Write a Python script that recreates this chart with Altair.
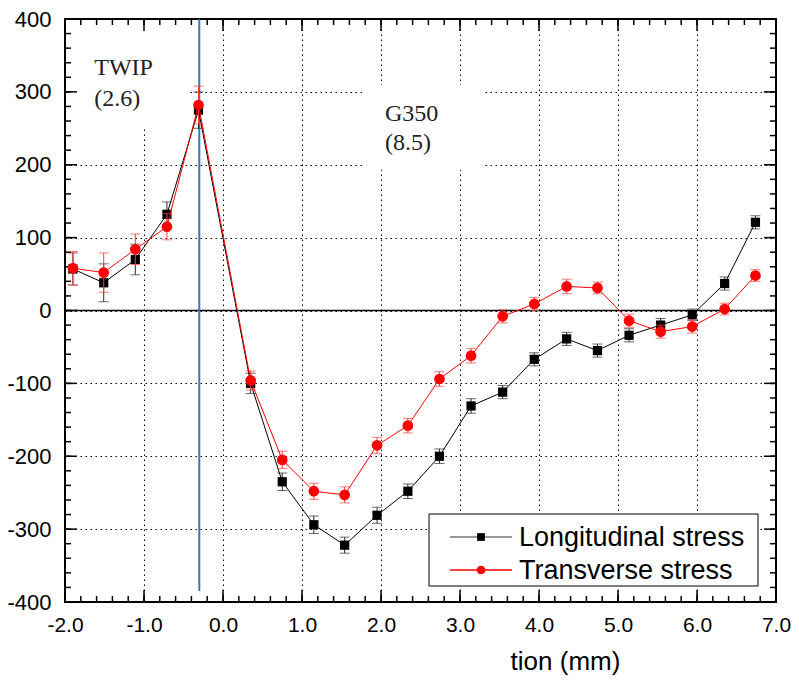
import altair as alt
import pandas as pd
import numpy as np

# ---------------- data ----------------
position = [-1.90, -1.51, -1.11, -0.71, -0.31, 0.35, 0.75, 1.15, 1.54, 1.95, 2.34,
            2.74, 3.14, 3.54, 3.94, 4.35, 4.74, 5.14, 5.54, 5.94, 6.35, 6.74]
long_stress = [57, 38, 70, 132, 275, -100, -235, -294, -322, -281, -248,
               -200, -131, -112, -67, -39, -55, -34, -20, -6, 37, 121]
long_err = [22, 26, 21, 17, 25, 14, 12, 12, 11, 11, 10,
            10, 10, 9, 9, 9, 9, 9, 9, 8, 9, 9]
trans_stress = [58, 52, 84, 115, 282, -96, -205, -248, -253, -185, -158,
                -94, -62, -8, 9, 33, 31, -14, -29, -22, 2, 48]
trans_err = [23, 27, 21, 18, 26, 13, 12, 11, 11, 11, 10,
             10, 10, 9, 9, 10, 8, 9, 9, 9, 8, 8]

series_names = ["Longitudinal stress", "Transverse stress"]

# interface line (blue) and zero line
interface_x = [-0.3]
interface_top = [400]
interface_bottom = [-385]
zero_line = [0]

# annotations
ann_text = ["TWIP", "(2.6)", "G350", "(8.5)"]
ann_x = [-1.63, -1.63, 2.05, 2.05]
ann_y = [323, 281, 260, 220]
box_x1 = [-1.975, 1.785]
box_x2 = [-0.42, 3.28]
box_y1 = [252, 193]
box_y2 = [397, 309.5]

# axis ticks
x_major = [-2.0, -1.0, 0.0, 1.0, 2.0, 3.0, 4.0, 5.0, 6.0, 7.0]
y_major = [-400, -300, -200, -100, 0, 100, 200, 300, 400]
x_minor = [round(v, 1) for v in np.arange(-2.0, 7.01, 0.2)]
y_minor = list(range(-400, 401, 20))

W, H = 711, 583
SANS = "Liberation Sans"
SERIF = "Liberation Serif"

xsc = alt.Scale(domain=[-2, 7], nice=False, zero=False)
ysc = alt.Scale(domain=[-400, 400], nice=False, zero=False)
minus_fix = "replace(datum.label, '\u2212', '-')"

x_axis = alt.Axis(values=x_major, format=".1f", labelExpr=minus_fix,
                  labelFont=SANS, labelFontSize=21, labelColor="black",
                  labelPadding=12, labelFlush=False, labelOverlap=False,
                  ticks=False, tickSize=0, domain=False,
                  grid=True, gridColor="black", gridDash=[1.5, 3.5],
                  gridWidth=1, gridOpacity=1,
                  titleFont=SANS, titleFontSize=26,
                  titleFontWeight="normal", titleColor="black",
                  titleX=500, titleY=67, titleBaseline="alphabetic",
                  titleAlign="center")
y_axis = alt.Axis(values=y_major, format="d", labelExpr=minus_fix,
                  labelFont=SANS, labelFontSize=22, labelColor="black",
                  labelPadding=14, labelFlush=False, labelOverlap=False,
                  ticks=False, tickSize=0, domain=False,
                  grid=True, gridColor="black", gridDash=[1.5, 3.5],
                  gridWidth=1, gridOpacity=1)

X_TITLE = "tion (mm)"

long_df = pd.DataFrame({"x": position, "y": long_stress,
                        "lo": [a - b for a, b in zip(long_stress, long_err)],
                        "hi": [a + b for a, b in zip(long_stress, long_err)]})
trans_df = pd.DataFrame({"x": position, "y": trans_stress,
                         "lo": [a - b for a, b in zip(trans_stress, trans_err)],
                         "hi": [a + b for a, b in zip(trans_stress, trans_err)]})


def X(field="x"):
    return alt.X(f"{field}:Q", scale=xsc, axis=x_axis, title=X_TITLE)


def Y(field="y"):
    return alt.Y(f"{field}:Q", scale=ysc, axis=y_axis, title=None)


boxes = alt.Chart(pd.DataFrame({"x1": box_x1, "x2": box_x2, "y1": box_y1, "y2": box_y2})).mark_rect(
    fill="white").encode(x=X("x1"), x2="x2:Q", y=Y("y1"), y2="y2:Q")


def side_ticks(vals, length, side):
    df = pd.DataFrame({"v": vals})
    base = alt.Chart(df).mark_rule(color="black", strokeWidth=1.5)
    if side == "left":
        return base.encode(y=Y("v"), x=alt.value(0), x2=alt.value(length))
    if side == "right":
        return base.encode(y=Y("v"), x=alt.value(W), x2=alt.value(W - length))
    if side == "bottom":
        return base.encode(x=X("v"), y=alt.value(H), y2=alt.value(H - length))
    return base.encode(x=X("v"), y=alt.value(0), y2=alt.value(length))


tick_list = []
for side in ["left", "right"]:
    tick_list.append(side_ticks(y_minor, 6, side))
    tick_list.append(side_ticks(y_major, 12, side))
for side in ["bottom", "top"]:
    tick_list.append(side_ticks(x_minor, 6, side))
    tick_list.append(side_ticks(x_major, 12, side))

zero = alt.Chart(pd.DataFrame({"y": zero_line})).mark_rule(color="black", strokeWidth=1.6).encode(y=Y())

interface = alt.Chart(pd.DataFrame({"x": interface_x, "y1": interface_top, "y2": interface_bottom})).mark_rule(
    color="#3f73b8", strokeWidth=2).encode(x=X(), y=Y("y1"), y2="y2:Q")


def series_layers(df, color, err_color, shape, size):
    caps = pd.DataFrame({"x": list(df["x"]) * 2, "y": list(df["lo"]) + list(df["hi"])})
    bars = alt.Chart(df).mark_rule(color=err_color, strokeWidth=1).encode(x=X(), y=Y("lo"), y2="hi:Q")
    cap = alt.Chart(caps).mark_tick(color=err_color, orient="horizontal", size=10, thickness=1).encode(
        x=X(), y=Y())
    line = alt.Chart(df).mark_line(color=color, strokeWidth=1).encode(x=X(), y=Y())
    pts = alt.Chart(df).mark_point(shape=shape, filled=True, fill=color, color=color, size=size,
                                   opacity=1, strokeWidth=0).encode(x=X(), y=Y())
    return [bars, cap, line, pts]


long_layers = series_layers(long_df, "black", "#2a2a2a", "square", 85)
trans_layers = series_layers(trans_df, "#ff0000", "#ff3a3a", "circle", 115)

ann = alt.Chart(pd.DataFrame({"x": ann_x, "y": ann_y, "t": ann_text})).mark_text(
    font=SERIF, fontSize=24, align="left", baseline="alphabetic", color="#222").encode(
    x=X(), y=Y(), text="t:N")

# manual legend (pixel layout inside the plot area)
one = pd.DataFrame({"a": [0]})
legend_box = alt.Chart(one).mark_rect(fill="white", stroke="black", strokeWidth=1).encode(
    x=alt.value(364), x2=alt.value(693), y=alt.value(495), y2=alt.value(567))


def legend_entry(label, line_color, mark_color, shape, size, ypix):
    ln = alt.Chart(one).mark_rule(color=line_color, strokeWidth=1.5).encode(
        x=alt.value(385), x2=alt.value(447), y=alt.value(ypix))
    pt = alt.Chart(one).mark_point(shape=shape, filled=True, fill=mark_color, size=size,
                                   opacity=1, strokeWidth=0).encode(x=alt.value(416), y=alt.value(ypix))
    tx = alt.Chart(one).mark_text(text=label, font=SANS, fontSize=27, align="left",
                                  baseline="middle", color="black").encode(
        x=alt.value(454), y=alt.value(ypix + 1))
    return [ln, pt, tx]


legend_layers = [legend_box]
legend_layers += legend_entry(series_names[0], "#777777", "black", "square", 60, 518)
legend_layers += legend_entry(series_names[1], "#ff0000", "#ff0000", "circle", 75, 551)

chart = alt.layer(
    boxes, *tick_list, zero, interface,
    *long_layers, *trans_layers, ann, *legend_layers
).properties(
    width=W, height=H,
    autosize=alt.AutoSizeParams(type="none"),
    padding={"left": 57, "top": 11, "right": 15, "bottom": 73},
    background="white",
).configure_view(stroke="black", strokeWidth=2)

chart.save("out.html", embed_options={"renderer": "svg", "actions": False})
